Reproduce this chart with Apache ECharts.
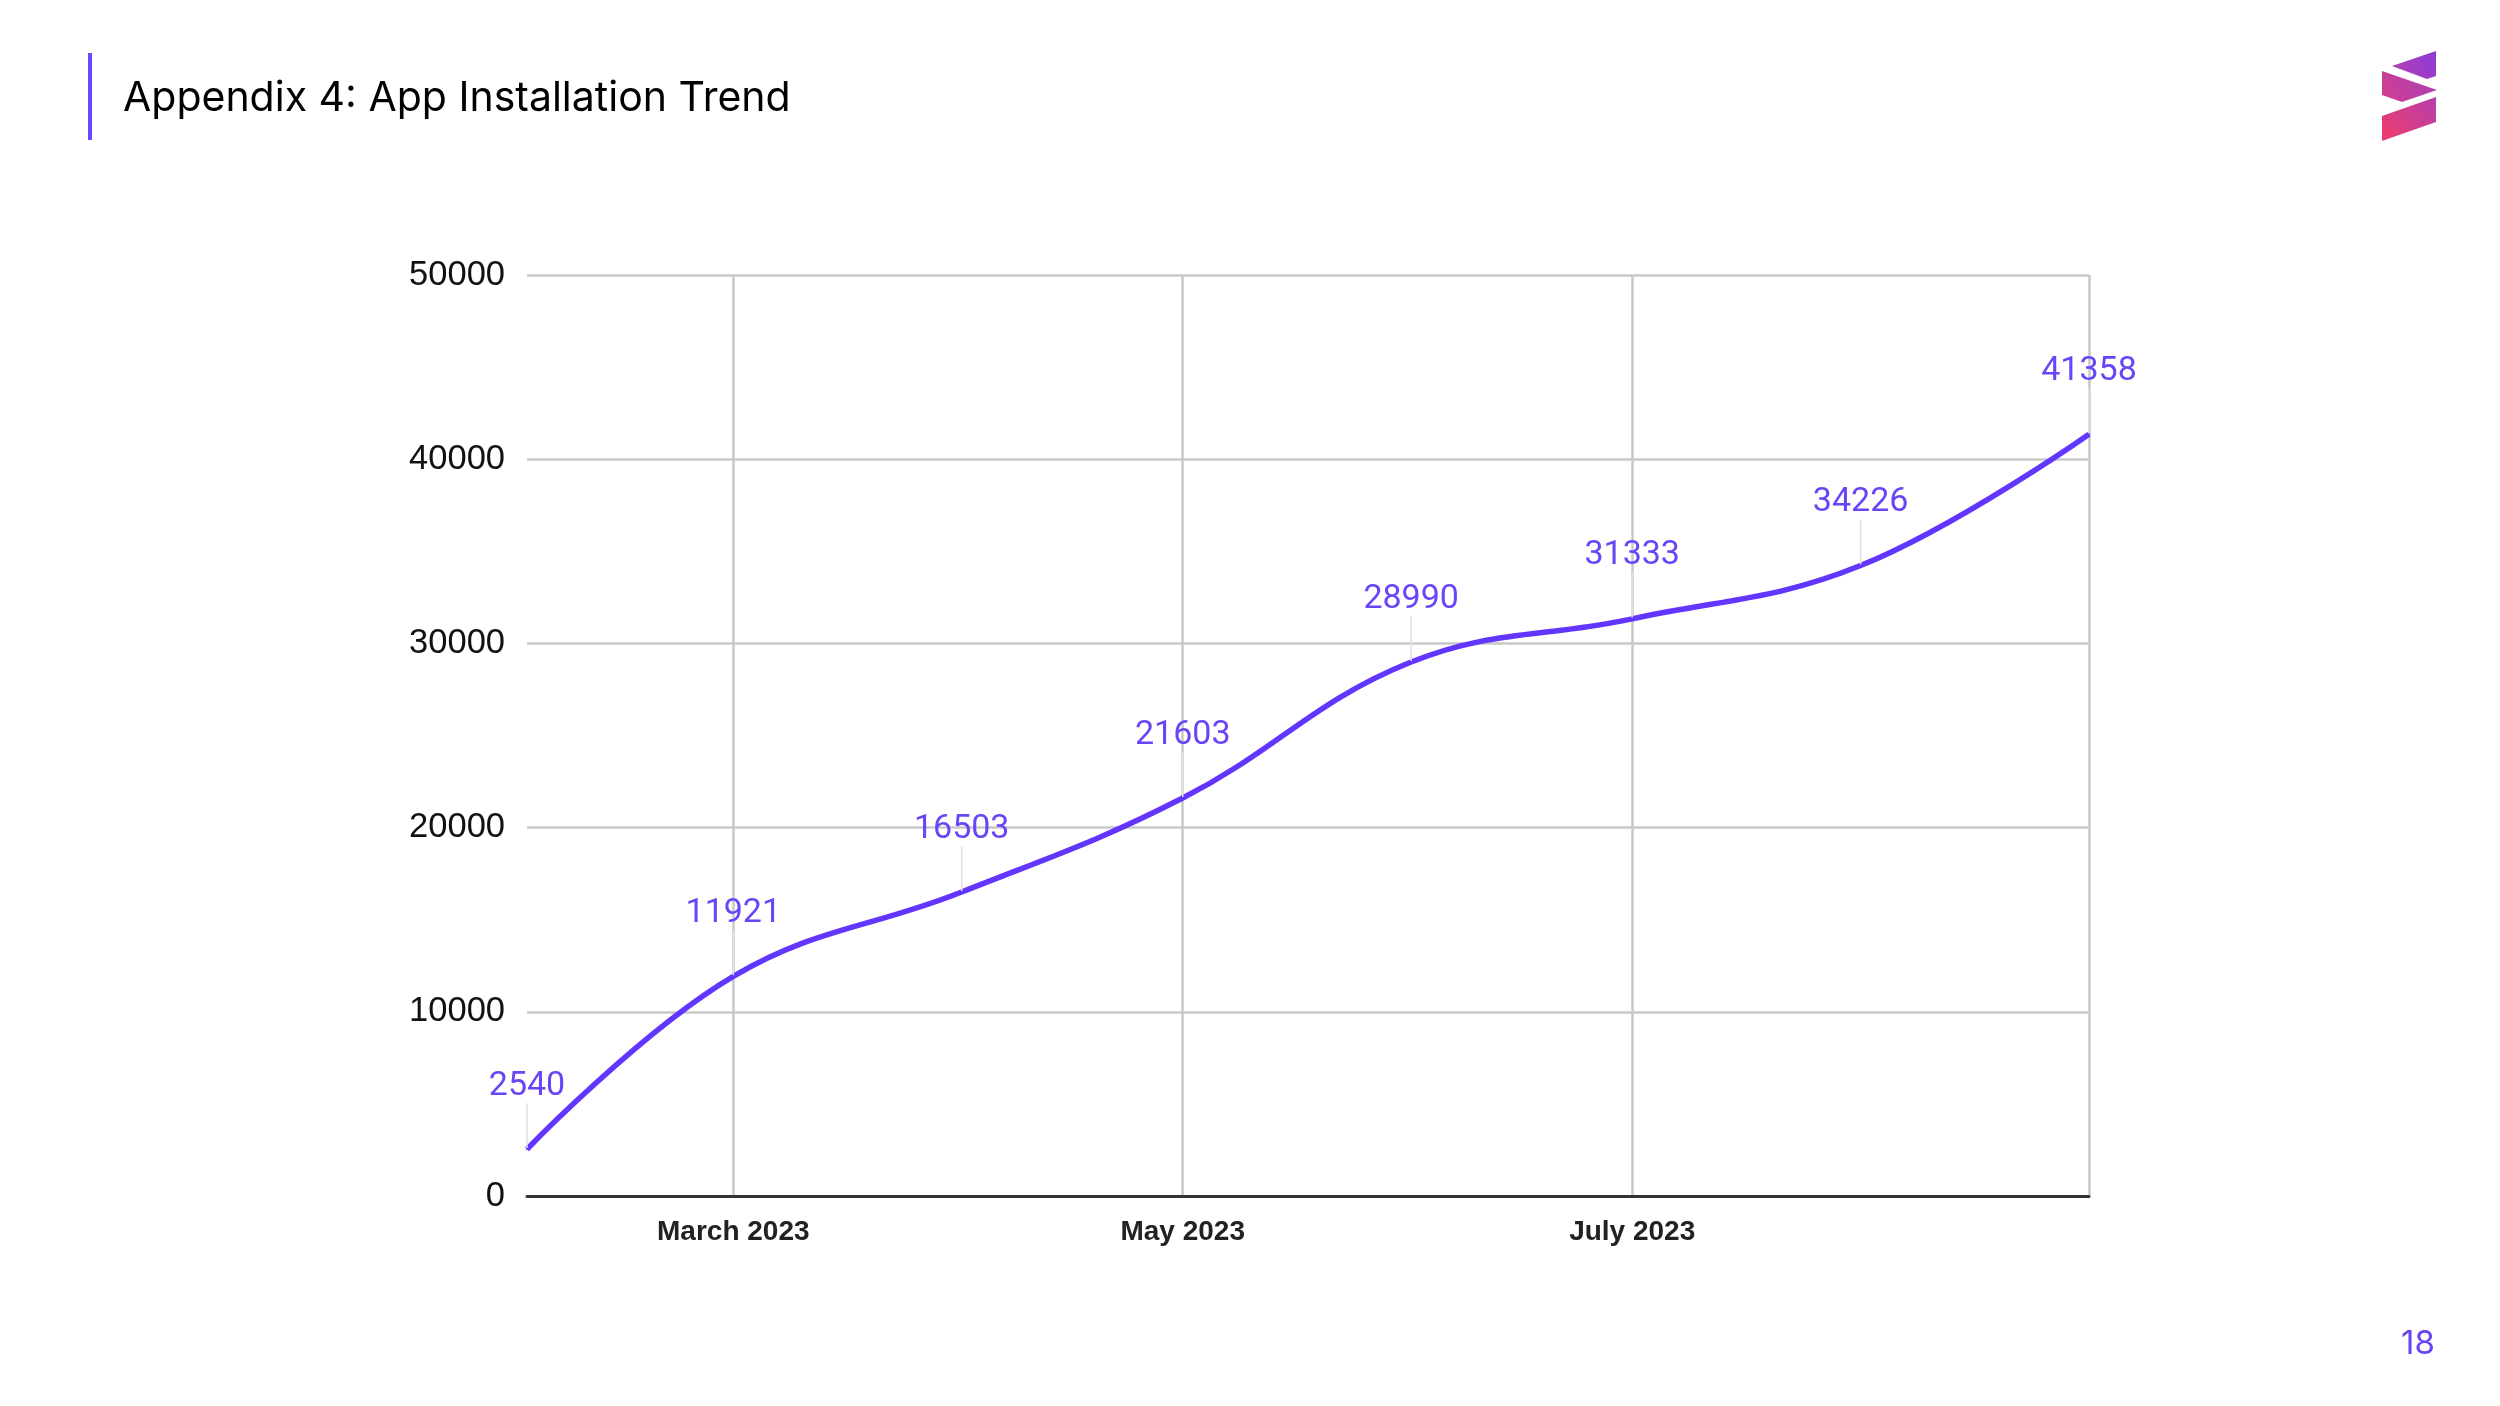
<!DOCTYPE html>
<html>
<head>
<meta charset="utf-8">
<style>
  html, body { margin: 0; padding: 0; background: #ffffff; }
  #chart { width: 2500px; height: 1406px; }
</style>
<script src="https://cdn.jsdelivr.net/npm/echarts@6/dist/echarts.min.js"></script>
</head>
<body>
<div id="chart"></div>
<script>
// ---- data ----
const dates = ['2023-02-01', '2023-03-01', '2023-04-01', '2023-05-01', '2023-06-01', '2023-07-01', '2023-08-01', '2023-09-01'];
const installs = [2540, 11921, 16503, 21603, 28990, 31333, 34226, 41358];
const xTickDates = ['2023-03-01', '2023-05-01', '2023-07-01', '2023-09-01'];
const xLabelDates = ['2023-03-01', '2023-05-01', '2023-07-01'];
const monthNames = ['January', 'February', 'March', 'April', 'May', 'June', 'July', 'August', 'September', 'October', 'November', 'December'];
const titleText = 'Appendix 4: App Installation Trend';
const pageNumber = '18';

function toTime(s) {
  const p = s.split('-').map(Number);
  return Date.UTC(p[0], p[1] - 1, p[2]);
}

const seriesData = dates.map((d, i) => [toTime(d), installs[i]]);

const chart = echarts.init(document.getElementById('chart'), null, { renderer: 'canvas' });

const option = {
  backgroundColor: '#ffffff',
  animation: false,
  grid: { left: 527, right: 411, top: 275, bottom: 210, containLabel: false },
  xAxis: {
    type: 'value',
    min: toTime(dates[0]),
    max: toTime(dates[dates.length - 1]),
    axisLine: { show: true, onZero: false, lineStyle: { color: '#333333', width: 3 } },
    axisTick: { show: false, customValues: xTickDates.map(toTime) },
    axisLabel: {
      customValues: xLabelDates.map(toTime),
      formatter: function (v) {
        const d = new Date(v);
        return monthNames[d.getUTCMonth()] + ' ' + d.getUTCFullYear();
      },
      color: '#222222',
      fontFamily: 'Liberation Sans',
      fontWeight: 'bold',
      fontSize: 28,
      margin: 22
    },
    splitLine: { show: true, lineStyle: { color: '#c8c8c8', width: 2.5 } }
  },
  yAxis: {
    type: 'value',
    min: 0,
    max: 50000,
    interval: 10000,
    axisLine: { show: false },
    axisTick: { show: false },
    axisLabel: {
      formatter: function (v) { return String(v); },
      color: '#111111',
      fontFamily: 'Liberation Sans',
      fontSize: 34.5,
      margin: 22
    },
    splitLine: { show: true, lineStyle: { color: '#c8c8c8', width: 2.5 } }
  },
  series: [{
    type: 'line',
    data: seriesData,
    smooth: 0.4,
    symbol: 'circle',
    symbolSize: 2,
    itemStyle: { color: '#6236ff' },
    lineStyle: { color: '#6236ff', width: 5.5 },
    label: {
      show: true,
      position: 'top',
      distance: 0,
      color: '#6a45f7',
      fontFamily: 'Roboto',
      fontSize: 34
    },
    labelLayout: { dy: -45 },
    labelLine: { show: true, lineStyle: { color: '#e0e0e0', width: 1.5 } },
    z: 5
  }],
  graphic: [
    { type: 'rect', shape: { x: 88, y: 53, width: 4, height: 87 }, style: { fill: '#6c47ff' } },
    { type: 'text', left: 123, top: 78, style: { text: titleText, fill: '#000000', font: '41px Inter' } },
    { type: 'text', left: 2401, top: 1328, style: { text: pageNumber, fill: '#6a43f5', font: '33px Inter' } },
    {
      type: 'group',
      children: [
        { type: 'polygon', shape: { points: [[2392, 66], [2436, 51], [2436, 76], [2427, 79]] },
          style: { fill: new echarts.graphic.LinearGradient(0, 1, 1, 0, [{ offset: 0, color: '#b23fb0' }, { offset: 1, color: '#8f3bd6' }]) } },
        { type: 'polygon', shape: { points: [[2382, 71], [2437, 90], [2402, 102], [2382, 95]] },
          style: { fill: new echarts.graphic.LinearGradient(0, 1, 1, 0, [{ offset: 0, color: '#d23f8f' }, { offset: 1, color: '#a93db8' }]) } },
        { type: 'polygon', shape: { points: [[2382, 116], [2436, 97], [2436, 122], [2382, 141]] },
          style: { fill: new echarts.graphic.LinearGradient(0, 1, 1, 0, [{ offset: 0, color: '#f03c6a' }, { offset: 1, color: '#b53fad' }]) } }
      ]
    }
  ]
};

chart.setOption(option);
</script>
</body>
</html>
